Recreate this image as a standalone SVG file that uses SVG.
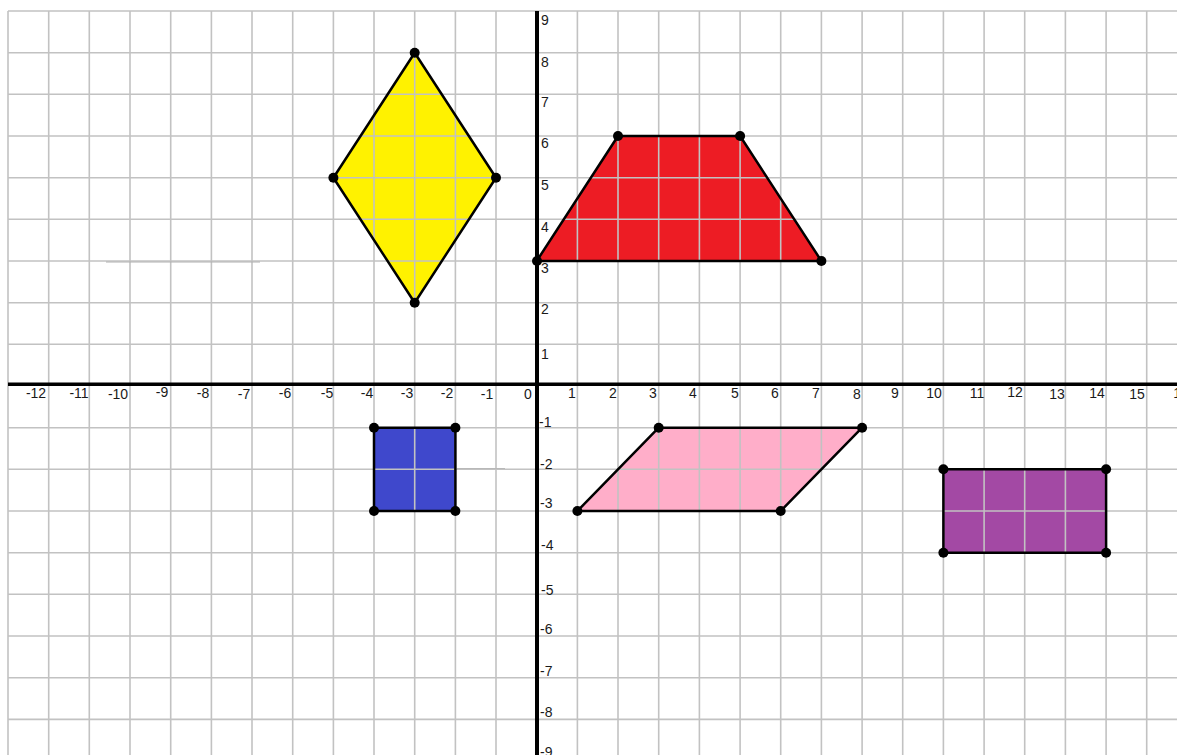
<svg xmlns="http://www.w3.org/2000/svg" width="1177" height="755" viewBox="0 0 1177 755">
<style>
.grid line{stroke:#c2c2c2;stroke-width:1.6}
.axis{stroke:#000;stroke-width:4}
.shape{stroke:#000;stroke-width:2.5;stroke-linejoin:round}
.dot{fill:#000}
text{font-family:"Liberation Sans",Arial,sans-serif;font-size:14px;fill:#1a1a1a}
.xl text{text-anchor:middle}
</style>
<rect width="1177" height="755" fill="#fff"/>
<g id="fills">
<polygon fill="#FFF200" points="414.7,52.7 496,177.7 414.7,302.7 333.4,177.7"/>
<polygon fill="#ED1C24" points="536.7,261 618,136 740.1,136 821.4,261"/>
<polygon fill="#3F48CC" points="374,427.7 455.4,427.7 455.4,511 374,511"/>
<polygon fill="#FFAEC9" points="658.7,427.7 862.1,427.7 780.7,511 577.4,511"/>
<polygon fill="#A349A4" points="943.4,469.3 1106.1,469.3 1106.1,552.7 943.4,552.7"/>
</g>
<g class="grid" id="grid">
<line x1="8" y1="11" x2="8" y2="755"/><line x1="48.7" y1="11" x2="48.7" y2="755"/><line x1="89.3" y1="11" x2="89.3" y2="755"/><line x1="130" y1="11" x2="130" y2="755"/><line x1="170.7" y1="11" x2="170.7" y2="755"/><line x1="211.4" y1="11" x2="211.4" y2="755"/><line x1="252" y1="11" x2="252" y2="755"/><line x1="292.7" y1="11" x2="292.7" y2="755"/><line x1="333.4" y1="11" x2="333.4" y2="755"/><line x1="374" y1="11" x2="374" y2="755"/><line x1="414.7" y1="11" x2="414.7" y2="755"/><line x1="455.4" y1="11" x2="455.4" y2="755"/><line x1="496" y1="11" x2="496" y2="755"/><line x1="577.4" y1="11" x2="577.4" y2="755"/><line x1="618" y1="11" x2="618" y2="755"/><line x1="658.7" y1="11" x2="658.7" y2="755"/><line x1="699.4" y1="11" x2="699.4" y2="755"/><line x1="740.1" y1="11" x2="740.1" y2="755"/><line x1="780.7" y1="11" x2="780.7" y2="755"/><line x1="821.4" y1="11" x2="821.4" y2="755"/><line x1="862.1" y1="11" x2="862.1" y2="755"/><line x1="902.7" y1="11" x2="902.7" y2="755"/><line x1="943.4" y1="11" x2="943.4" y2="755"/><line x1="984.1" y1="11" x2="984.1" y2="755"/><line x1="1024.7" y1="11" x2="1024.7" y2="755"/><line x1="1065.4" y1="11" x2="1065.4" y2="755"/><line x1="1106.1" y1="11" x2="1106.1" y2="755"/><line x1="1146.7" y1="11" x2="1146.7" y2="755"/>
<line x1="8" y1="11" x2="1177" y2="11"/><line x1="8" y1="52.7" x2="1177" y2="52.7"/><line x1="8" y1="94.3" x2="1177" y2="94.3"/><line x1="8" y1="136" x2="1177" y2="136"/><line x1="8" y1="177.7" x2="1177" y2="177.7"/><line x1="8" y1="219.3" x2="1177" y2="219.3"/><line x1="8" y1="261" x2="1177" y2="261"/><line x1="8" y1="302.7" x2="1177" y2="302.7"/><line x1="8" y1="344.3" x2="1177" y2="344.3"/><line x1="8" y1="427.7" x2="1177" y2="427.7"/><line x1="8" y1="469.3" x2="1177" y2="469.3"/><line x1="8" y1="511" x2="1177" y2="511"/><line x1="8" y1="552.7" x2="1177" y2="552.7"/><line x1="8" y1="594.3" x2="1177" y2="594.3"/><line x1="8" y1="636" x2="1177" y2="636"/><line x1="8" y1="677.7" x2="1177" y2="677.7"/><line x1="8" y1="719.4" x2="1177" y2="719.4"/>
<line x1="106" y1="262" x2="260" y2="262" style="stroke:#b0b0b0;stroke-width:1"/>
<line x1="457" y1="468.5" x2="505" y2="468.5" style="stroke:#b8b8b8;stroke-width:1"/>
</g>
<g id="axes">
<line class="axis" x1="8" y1="384.3" x2="1177" y2="384.3" style="stroke-width:3.6"/>
<line class="axis" x1="537" y1="11" x2="537" y2="755"/>
</g>
<g id="yellow-rhombus">
<polygon class="shape" fill="none" points="414.7,52.7 496,177.7 414.7,302.7 333.4,177.7"/>
<circle class="dot" cx="414.7" cy="52.7" r="5"/><circle class="dot" cx="496" cy="177.7" r="5"/><circle class="dot" cx="414.7" cy="302.7" r="5"/><circle class="dot" cx="333.4" cy="177.7" r="5"/>
</g>
<g id="red-trapezoid">
<polygon class="shape" fill="none" points="536.7,261 618,136 740.1,136 821.4,261"/>
<circle class="dot" cx="537" cy="261" r="5"/><circle class="dot" cx="618" cy="136" r="5"/><circle class="dot" cx="740.1" cy="136" r="5"/><circle class="dot" cx="821.4" cy="261" r="5"/>
</g>
<g id="blue-square">
<polygon class="shape" fill="none" points="374,427.7 455.4,427.7 455.4,511 374,511"/>
<circle class="dot" cx="374" cy="427.7" r="5"/><circle class="dot" cx="455.4" cy="427.7" r="5"/><circle class="dot" cx="455.4" cy="511" r="5"/><circle class="dot" cx="374" cy="511" r="5"/>
</g>
<g id="pink-parallelogram">
<polygon class="shape" fill="none" points="658.7,427.7 862.1,427.7 780.7,511 577.4,511"/>
<circle class="dot" cx="658.7" cy="427.7" r="5"/><circle class="dot" cx="862.1" cy="427.7" r="5"/><circle class="dot" cx="780.7" cy="511" r="5"/><circle class="dot" cx="577.4" cy="511" r="5"/>
</g>
<g id="purple-rectangle">
<polygon class="shape" fill="none" points="943.4,469.3 1106.1,469.3 1106.1,552.7 943.4,552.7"/>
<circle class="dot" cx="943.4" cy="469.3" r="5"/><circle class="dot" cx="1106.1" cy="469.3" r="5"/><circle class="dot" cx="1106.1" cy="552.7" r="5"/><circle class="dot" cx="943.4" cy="552.7" r="5"/>
</g>
<g id="y-labels">
<text x="541" y="25">9</text><text x="541" y="67">8</text><text x="541" y="107">7</text><text x="541" y="148">6</text><text x="541" y="190">5</text><text x="541" y="232">4</text><text x="541" y="273">3</text><text x="541" y="314">2</text><text x="541" y="359">1</text>
<text x="539" y="427">-1</text><text x="540" y="469">-2</text><text x="540" y="508">-3</text><text x="541" y="550">-4</text><text x="541" y="595">-5</text><text x="540" y="634">-6</text><text x="540" y="676">-7</text><text x="540" y="717">-8</text><text x="540" y="757">-9</text>
</g>
<g id="x-labels" class="xl">
<text x="36" y="398">-12</text><text x="79" y="398">-11</text><text x="118" y="399">-10</text><text x="162" y="397">-9</text><text x="203" y="398">-8</text><text x="244" y="399">-7</text><text x="285" y="398">-6</text><text x="327" y="398">-5</text><text x="367" y="398">-4</text><text x="407" y="398">-3</text><text x="447" y="398">-2</text><text x="487" y="399">-1</text><text x="528" y="399">0</text><text x="572" y="398">1</text><text x="613" y="398">2</text><text x="653" y="398">3</text><text x="693" y="398">4</text><text x="735" y="398">5</text><text x="775" y="398">6</text><text x="816" y="398">7</text><text x="857" y="399">8</text><text x="895" y="398">9</text><text x="934" y="398">10</text><text x="977" y="398">11</text><text x="1015" y="397">12</text><text x="1057" y="399">13</text><text x="1097" y="398">14</text><text x="1137" y="399">15</text><text x="1181" y="398">16</text>
</g>
</svg>
